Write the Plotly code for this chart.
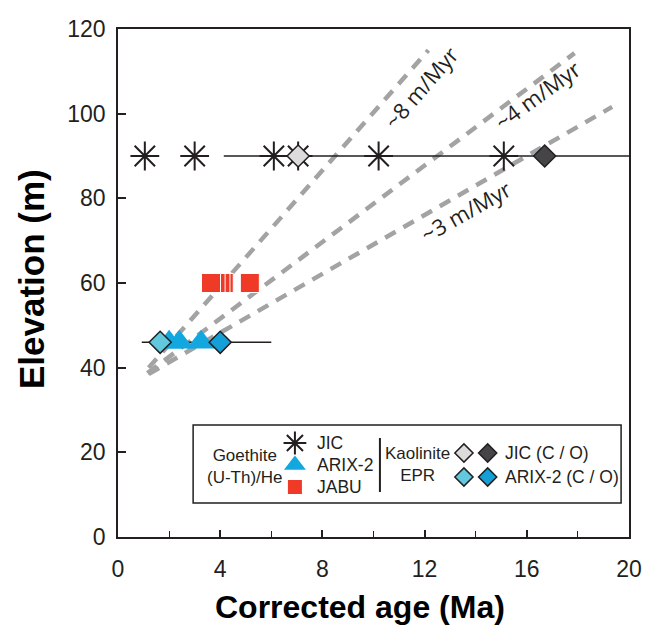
import plotly.graph_objects as go

# ---------------- data ----------------
jic_goethite_age = [1.05, 3.0, 6.1, 7.05, 10.2, 15.1]
jic_elev = 90
arix_goethite_age = [2.0, 2.4, 3.25]
arix_elev = 46
jabu_goethite_age = [3.64, 3.82, 4.01, 4.14, 5.16]
jabu_elev = 60

jic_kaol_age_c = 7.05
jic_kaol_age_o = 16.7
arix_kaol_age_c = 1.65
arix_kaol_age_o = 4.0

jic_range = [4.14, 20.5]
arix_range = [0.93, 6.0]

rate_labels = ["~8 m/Myr", "~4 m/Myr", "~3 m/Myr"]
rate_x0 = [1.2, 1.15, 1.2]
rate_y0 = [40.0, 38.7, 38.5]
rate_x1 = [12.15, 17.87, 19.34]
rate_y1 = [115.0, 114.3, 101.6]
label_x = [11.85, 16.4, 13.6]
label_y = [106.3, 104.3, 77.0]
label_angle = [-49, -36, -29.5]

x_ticks = [0, 4, 8, 12, 16, 20]
y_ticks = [0, 20, 40, 60, 80, 100, 120]

goethite_labels = ["JIC", "ARIX-2", "JABU"]
kaolinite_labels = ["JIC (C / O)", "ARIX-2 (C / O)"]

# ---------------- styles ----------------
FONT = "Liberation Sans"
INK = "#231f20"
GRAY = "#a3a3a3"
TRI = "#12a8df"
RED = "#ee3a26"
DIA_JIC = ["#dcdcdc", "#454548"]
DIA_ARIX = ["#62c8dd", "#149fd6"]
LEG_FS = 17.5

fig = go.Figure()

# rate lines
for i in range(len(rate_labels)):
    fig.add_trace(go.Scatter(x=[rate_x0[i], rate_x1[i]], y=[rate_y0[i], rate_y1[i]],
                             mode="lines", line=dict(color=GRAY, width=4.5, dash="12px,9px"),
                             hoverinfo="skip", showlegend=False))
    fig.add_annotation(x=label_x[i], y=label_y[i], text=rate_labels[i], showarrow=False,
                       textangle=label_angle[i], font=dict(family="Open Sans", size=22, color=INK))

# horizontal range lines
for rng, elev in [(jic_range, jic_elev), (arix_range, arix_elev)]:
    fig.add_trace(go.Scatter(x=rng, y=[elev, elev], mode="lines",
                             line=dict(color=INK, width=1.5), hoverinfo="skip", showlegend=False))

# goethite JIC stars
fig.add_trace(go.Scatter(x=jic_goethite_age, y=[jic_elev] * len(jic_goethite_age), mode="markers",
                         marker=dict(symbol="asterisk-open", size=24, color=INK, line=dict(color=INK, width=2)),
                         showlegend=False))
# goethite JABU squares (drawn right to left so the left ones sit on top)
fig.add_trace(go.Scatter(x=jabu_goethite_age[::-1], y=[jabu_elev] * len(jabu_goethite_age), mode="markers",
                         marker=dict(symbol="square", size=19, color=RED, line=dict(color="white", width=1)),
                         showlegend=False))
# goethite ARIX-2 triangles
fig.add_trace(go.Scatter(x=arix_goethite_age, y=[arix_elev] * len(arix_goethite_age), mode="markers",
                         marker=dict(symbol="triangle-up", size=25, color=TRI, line=dict(width=0)),
                         showlegend=False))
# kaolinite diamonds
fig.add_trace(go.Scatter(x=[jic_kaol_age_c, jic_kaol_age_o], y=[jic_elev, jic_elev], mode="markers",
                         marker=dict(symbol="diamond", size=17, color=DIA_JIC, line=dict(color=INK, width=1.5)),
                         showlegend=False))
fig.add_trace(go.Scatter(x=[arix_kaol_age_c, arix_kaol_age_o], y=[arix_elev, arix_elev], mode="markers",
                         marker=dict(symbol="diamond", size=17, color=DIA_ARIX, line=dict(color=INK, width=1.5)),
                         showlegend=False))

# ---------------- custom legend (pixel overlay axes) ----------------
L, R, T, B = 118, 635, 29, 537  # plot area in pixels
box = dict(x0=194, x1=627, y0=425, y1=503)
row_g = 22
row_k = 24
g_sym_x, g_lab_x, g_y0 = 297, 317, 443
k_c_x, k_o_x, k_lab_x, k_y0 = 468, 492, 508, 453

def px(x):
    return (x - L) / (R - L)

def py(y):
    return (B - y) / (B - T)

fig.add_shape(type="rect", xref="paper", yref="paper", x0=px(box["x0"]), x1=px(box["x1"]),
              y0=py(box["y1"]), y1=py(box["y0"]), line=dict(color=INK, width=1.5), fillcolor="white",
              layer="below")
fig.add_shape(type="line", xref="paper", yref="paper", x0=px(383), x1=px(383), y0=py(492), y1=py(438),
              line=dict(color=INK, width=2), layer="above")

g_syms = [dict(symbol="asterisk-open", size=19, color=INK, line=dict(color=INK, width=2)),
          dict(symbol="triangle-up", size=19, color=TRI, line=dict(width=0)),
          dict(symbol="square", size=14, color=RED, line=dict(width=0))]
for i, lab in enumerate(goethite_labels):
    yy = g_y0 + i * row_g
    fig.add_trace(go.Scatter(x=[g_sym_x], y=[yy], xaxis="x2", yaxis="y2", mode="markers",
                             marker=g_syms[i], hoverinfo="skip", showlegend=False))
    fig.add_annotation(xref="paper", yref="paper", x=px(g_lab_x), y=py(yy), text=lab, showarrow=False,
                       xanchor="left", yanchor="middle", font=dict(family=FONT, size=LEG_FS, color=INK))

dia_fills = [DIA_JIC, DIA_ARIX]
for i, lab in enumerate(kaolinite_labels):
    yy = k_y0 + i * row_k
    fig.add_trace(go.Scatter(x=[k_c_x, k_o_x], y=[yy, yy], xaxis="x2", yaxis="y2", mode="markers",
                             marker=dict(symbol="diamond", size=14, color=dia_fills[i],
                                         line=dict(color=INK, width=1.5)),
                             hoverinfo="skip", showlegend=False))
    fig.add_annotation(xref="paper", yref="paper", x=px(k_lab_x), y=py(yy), text=lab, showarrow=False,
                       xanchor="left", yanchor="middle", font=dict(family=FONT, size=LEG_FS, color=INK))

fig.add_annotation(xref="paper", yref="paper", x=px(246), y=py(466), text="Goethite<br>(U-Th)/He",
                   showarrow=False, xanchor="center", yanchor="middle",
                   font=dict(family=FONT, size=17, color=INK))
fig.add_annotation(xref="paper", yref="paper", x=px(421), y=py(464), text="Kaolinite<br>EPR",
                   showarrow=False, xanchor="center", yanchor="middle",
                   font=dict(family=FONT, size=17, color=INK))

# axis titles (placed as in the reference)
fig.add_annotation(xref="paper", yref="paper", x=px(363), y=py(607), text="<b>Corrected age (Ma)</b>",
                   showarrow=False, xanchor="center", yanchor="middle",
                   font=dict(family=FONT, size=32, color="black"))
fig.add_annotation(xref="paper", yref="paper", x=px(30), y=py(279), text="<b>Elevation (m)</b>",
                   showarrow=False, xanchor="center", yanchor="middle", textangle=-90,
                   font=dict(family=FONT, size=35, color="black"))

# ---------------- layout ----------------
fig.update_layout(
    width=654, height=630,
    margin=dict(l=L, r=654 - R, t=T, b=630 - B),
    paper_bgcolor="white", plot_bgcolor="white",
    font=dict(family=FONT, size=22, color=INK),
    xaxis=dict(range=[0, 20], tickvals=x_ticks, ticks="inside", ticklen=7, tickwidth=1.5, tickcolor=INK,
               minor=dict(dtick=2, tick0=0, ticks="inside", ticklen=6, tickwidth=1.2, tickcolor=INK),
               showline=True, linecolor=INK, linewidth=1.5, mirror=True, showgrid=False, zeroline=False,
               tickfont=dict(size=23), ticklabelstandoff=11),
    yaxis=dict(range=[0, 120], tickvals=y_ticks, ticks="inside", ticklen=8, tickwidth=1.5, tickcolor=INK,
               showline=True, linecolor=INK, linewidth=1.5, mirror=True, showgrid=False, zeroline=False,
               tickfont=dict(size=23), ticklabelstandoff=6),
    xaxis2=dict(overlaying="x", range=[L, R], visible=False, fixedrange=True),
    yaxis2=dict(overlaying="y", range=[B, T], visible=False, fixedrange=True),
    showlegend=False,
)

fig.write_html("out.html")
